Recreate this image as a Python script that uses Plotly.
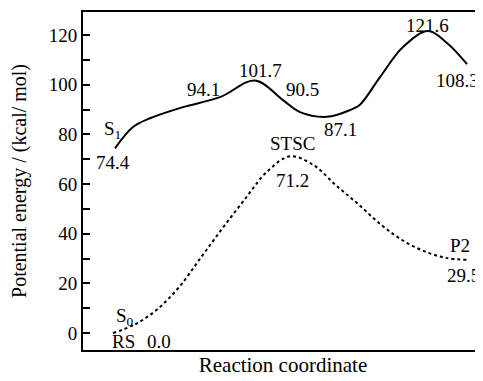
import plotly.graph_objects as go

# S1 (solid) curve readings: reaction coordinate (arb. units), energy (kcal/mol)
s1_x = [0.8, 1.25, 1.675, 2.5, 3.425, 4.3, 5.0, 5.425, 6.1, 6.675, 6.925, 7.425, 8.0, 8.625, 9.1, 9.6]
s1_y = [74.4, 83.0, 86.5, 91.0, 95.0, 101.7, 93.8, 89.0, 87.1, 89.8, 92.0, 103.1, 115.2, 121.6, 116.8, 108.3]

# S0 (dotted) curve readings
s0_x = [0.75, 1.3, 1.85, 2.4, 2.95, 3.5, 4.05, 4.6, 5.175, 5.75, 6.325, 6.875, 7.425, 7.975, 8.525, 9.075, 9.625]
s0_y = [0.0, 3.5, 9.5, 18.5, 30.5, 42.5, 54.0, 65.0, 71.2, 67.8, 59.5, 52.0, 44.0, 37.5, 33.0, 30.3, 29.5]

# Point labels: text, x, y
label_text = ["S<sub>1</sub>", "74.4", "94.1", "101.7", "90.5", "87.1", "121.6", "108.3",
              "STSC", "71.2", "P2", "29.5", "S<sub>0</sub>", "RS", "0.0"]
label_x = [0.725, 0.75, 3.0, 4.425, 5.475, 6.425, 8.6, 9.35, 5.225, 5.225, 9.425, 9.5, 1.05, 1.0, 1.9]
label_y = [81.8, 68.5, 97.9, 105.9, 97.9, 81.8, 124.0, 101.9, 76.5, 61.6, 35.4, 23.4, 6.5, -3.5, -3.5]

y_ticks = [0, 20, 40, 60, 80, 100, 120]

FONT = "Liberation Serif"

fig = go.Figure()
fig.add_trace(go.Scatter(x=s1_x, y=s1_y, mode="lines",
                         line=dict(color="black", width=2, shape="spline", smoothing=1.0),
                         showlegend=False, hoverinfo="skip"))
fig.add_trace(go.Scatter(x=s0_x, y=s0_y, mode="lines",
                         line=dict(color="black", width=2, dash="dot", shape="spline", smoothing=1.0),
                         showlegend=False, hoverinfo="skip"))

for t, x, y in zip(label_text, label_x, label_y):
    fig.add_annotation(x=x, y=y, text=t, showarrow=False,
                       font=dict(family=FONT, size=19, color="black"))

# page body has an 8px default margin, so the figure is sized/offset to compensate
fig.update_layout(
    width=475, height=373,
    margin=dict(l=75, r=0, t=4, b=31),
    paper_bgcolor="white", plot_bgcolor="white",
    font=dict(family=FONT, size=19, color="black"),
    xaxis=dict(range=[0, 10], showticklabels=False, ticks="", showgrid=False, zeroline=False,
               showline=True, linecolor="black", linewidth=2, mirror=True, automargin=False,
               title=dict(text="Reaction coordinate", font=dict(family=FONT, size=21), standoff=6)),
    yaxis=dict(range=[-6.8, 129.3], tickvals=y_ticks, ticks="inside", ticklen=7, tickwidth=2,
               tickcolor="black", showgrid=False, zeroline=False, automargin=False,
               tickfont=dict(family=FONT, size=19),
               showline=True, linecolor="black", linewidth=2, mirror=False,
               minor=dict(dtick=10, tick0=0, ticks="inside", ticklen=7, tickwidth=2, tickcolor="black", showgrid=False),
               title=dict(text="Potential energy / (kcal/ mol)", font=dict(family=FONT, size=20), standoff=24)),
)

fig.write_html("out.html")
